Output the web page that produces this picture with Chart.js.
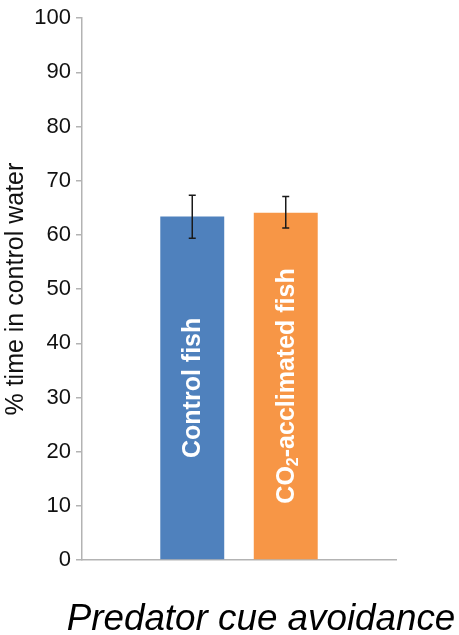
<!DOCTYPE html>
<html>
<head>
<meta charset="utf-8">
<script src="https://cdn.jsdelivr.net/npm/chart.js@4/dist/chart.umd.min.js"></script>
<style>
  html, body { margin: 0; padding: 0; background: #fff; }
  canvas { display: block; }
</style>
</head>
<body>
<canvas id="c" width="459" height="635"></canvas>
<script>
const categories = [""];
const groupLabels = ["Control fish", "CO₂-acclimated fish"];
const meanValues = [63.4, 64.1];
const errLow = [59.4, 61.3];
const errHigh = [67.3, 67.1];
const barColors = ["#4F81BD", "#F79646"];
const yTicks = [0, 10, 20, 30, 40, 50, 60, 70, 80, 90, 100];
const yTitle = "% time in control water";
const xTitle = "Predator cue avoidance";

const FONT = "'Liberation Sans', Arial, Helvetica, sans-serif";
const AXIS = "#b3b3b3";

const overlay = {
  id: "overlay",
  afterDatasetsDraw(chart) {
    const ctx = chart.ctx;
    const ys = chart.scales.y;
    chart.data.datasets.forEach((ds, i) => {
      const bar = chart.getDatasetMeta(i).data[0];
      const x = bar.x;
      const cy = (bar.y + bar.base) / 2;
      ctx.save();
      ctx.translate(x, cy);
      ctx.rotate(-Math.PI / 2);
      ctx.fillStyle = "#ffffff";
      ctx.textBaseline = "middle";
      const big = "bold 25px " + FONT;
      const small = "bold 16px " + FONT;
      const parts = ds.label.split("₂");
      const segs = [];
      parts.forEach((p, k) => {
        if (k > 0) segs.push({ t: "2", f: small, dy: 7 });
        if (p) segs.push({ t: p, f: big, dy: 0 });
      });
      let total = 0;
      segs.forEach(s => { ctx.font = s.f; s.w = ctx.measureText(s.t).width; total += s.w; });
      let cx = -total / 2;
      ctx.textAlign = "left";
      segs.forEach(s => { ctx.font = s.f; ctx.fillText(s.t, cx, 1 + s.dy); cx += s.w; });
      ctx.restore();
      const yl = ys.getPixelForValue(errLow[i]);
      const yh = ys.getPixelForValue(errHigh[i]);
      ctx.save();
      ctx.strokeStyle = "#1a1a1a";
      ctx.lineWidth = 1.5;
      ctx.beginPath();
      ctx.moveTo(x, yl); ctx.lineTo(x, yh);
      ctx.moveTo(x - 3.5, yl); ctx.lineTo(x + 3.5, yl);
      ctx.moveTo(x - 3.5, yh); ctx.lineTo(x + 3.5, yh);
      ctx.stroke();
      ctx.restore();
    });
  },
  afterDraw(chart) {
    const ctx = chart.ctx;
    const area = chart.chartArea;
    ctx.save();
    ctx.font = "italic 36.8px " + FONT;
    ctx.fillStyle = "#000";
    ctx.textAlign = "center";
    ctx.textBaseline = "alphabetic";
    ctx.fillText(xTitle, (area.left + area.right) / 2 + 22, area.bottom + 70);
    ctx.restore();
  }
};

new Chart(document.getElementById("c"), {
  type: "bar",
  data: {
    labels: categories,
    datasets: groupLabels.map((lab, i) => ({
      label: lab,
      data: [meanValues[i]],
      backgroundColor: barColors[i],
      borderWidth: 0,
      categoryPercentage: 0.5955,
      barPercentage: 0.684
    }))
  },
  options: {
    responsive: false,
    animation: false,
    layout: { padding: { top: 17, right: 63, left: 0, bottom: 0 } },
    plugins: { legend: { display: false }, tooltip: { enabled: false } },
    scales: {
      x: {
        grid: { display: false, drawTicks: false },
        border: { display: true, color: AXIS, width: 1.5 },
        ticks: { display: false },
        title: { display: false },
        afterFit: s => { s.height = 75; }
      },
      y: {
        min: 0, max: 100,
        afterBuildTicks: s => { s.ticks = yTicks.map(v => ({ value: v })); },
        grid: { display: true, drawOnChartArea: false, drawTicks: true, tickLength: 6, color: AXIS, lineWidth: 1.5 },
        border: { display: true, color: AXIS, width: 1.5 },
        ticks: { color: "#111", padding: 5, font: { family: FONT, size: 22 } },
        title: {
          display: true, text: yTitle, color: "#111",
          font: { family: FONT, size: 25, lineHeight: 1 },
          padding: { top: 3.5, bottom: 0 }
        },
        afterFit: s => { s.width = 82; }
      }
    }
  },
  plugins: [overlay]
});
</script>
</body>
</html>
